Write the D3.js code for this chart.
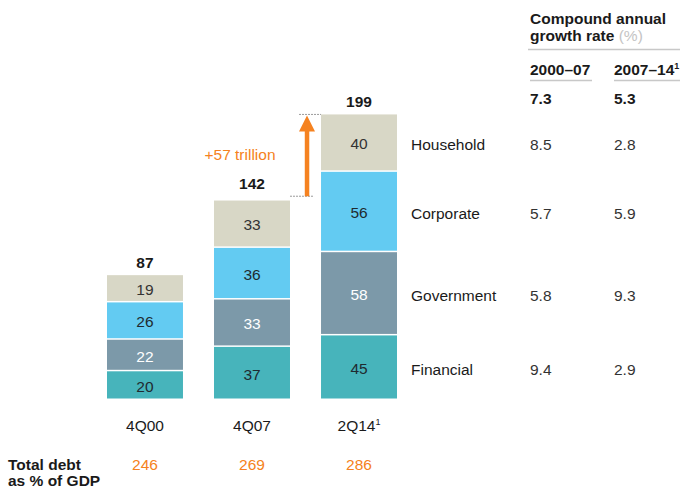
<!DOCTYPE html>
<html>
<head>
<meta charset="utf-8">
<script src="https://cdn.jsdelivr.net/npm/d3@7"></script>
<style>
  html, body { margin: 0; padding: 0; background: #fff; }
  svg { font-family: "Liberation Sans", Arial, sans-serif; }
</style>
</head>
<body>
<svg id="chart" width="680" height="490"></svg>
<script>
// Debt stock by sector, $ trillion
const periods = ["4Q00", "4Q07", "2Q14"];
const periodNotes = ["", "", "1"];
const sectors = ["Financial", "Government", "Corporate", "Household"];
const financial = [20, 37, 45];
const government = [22, 33, 58];
const corporate = [26, 36, 56];
const household = [19, 33, 40];
const totals = [87, 142, 199];
const debtToGdp = [246, 269, 286];
// Compound annual growth rate (%), per sector
const cagrHeaders = ["2000–07", "2007–14"];
const cagrTotal = [7.3, 5.3];
const cagrFinancial = [9.4, 2.9];
const cagrGovernment = [5.8, 9.3];
const cagrCorporate = [5.7, 5.9];
const cagrHousehold = [8.5, 2.8];
const increaseLabel = "+57 trillion";

const colors = {
  Financial: "#47b4bb",
  Government: "#7c99a9",
  Corporate: "#63cbf2",
  Household: "#d8d7c6"
};
const textColors = {
  Financial: "#1f2a30",
  Government: "#ffffff",
  Corporate: "#1f2a30",
  Household: "#333333"
};

const seriesValues = {
  Financial: financial, Government: government,
  Corporate: corporate, Household: household
};
const cagrValues = {
  Financial: cagrFinancial, Government: cagrGovernment,
  Corporate: cagrCorporate, Household: cagrHousehold
};

const rows = periods.map((p, i) => {
  const r = { period: p };
  sectors.forEach(s => r[s] = seriesValues[s][i]);
  return r;
});

const svg = d3.select("#chart");
const orange = "#f58220";
const dark = "#1a1a1a";
const fs = 15.5;

const x = d3.scaleBand().domain(periods).range([107, 397]).paddingInner(0.29).paddingOuter(0);
const y = d3.scaleLinear().domain([0, 200]).range([400, 113]);

const stack = d3.stack().keys(sectors);
const layers = stack(rows);

const g = svg.append("g");
layers.forEach(layer => {
  const key = layer.key;
  const lg = g.append("g");
  lg.selectAll("rect").data(layer).join("rect")
    .attr("x", d => x(d.data.period))
    .attr("width", x.bandwidth())
    .attr("y", d => y(d[1]))
    .attr("height", d => Math.max(0, y(d[0]) - y(d[1]) - 1.5))
    .attr("fill", colors[key]);
  lg.selectAll("text").data(layer).join("text")
    .attr("x", d => x(d.data.period) + x.bandwidth() / 2)
    .attr("y", d => (y(d[0]) + y(d[1])) / 2)
    .attr("dy", "0.4em")
    .attr("text-anchor", "middle")
    .attr("font-size", fs)
    .attr("fill", textColors[key])
    .text(d => d.data[key]);
});

// Totals above each bar
g.selectAll(".total").data(periods).join("text")
  .attr("x", d => x(d) + x.bandwidth() / 2)
  .attr("y", (d, i) => y(totals[i]) - 7)
  .attr("text-anchor", "middle")
  .attr("font-size", fs).attr("font-weight", "bold").attr("fill", dark)
  .text((d, i) => totals[i]);

// Period labels
const pl = g.selectAll(".period").data(periods).join("text")
  .attr("x", d => x(d) + x.bandwidth() / 2)
  .attr("y", 431)
  .attr("text-anchor", "middle")
  .attr("font-size", fs).attr("fill", dark);
pl.append("tspan").text(d => d);
pl.append("tspan").attr("font-size", 9).attr("dy", -6).text((d, i) => periodNotes[i]);

// Debt as % of GDP
svg.append("text").attr("x", 8).attr("y", 470).attr("font-size", fs).attr("font-weight", "bold").attr("fill", dark).text("Total debt");
svg.append("text").attr("x", 8).attr("y", 486).attr("font-size", fs).attr("font-weight", "bold").attr("fill", dark).text("as % of GDP");
g.selectAll(".gdp").data(periods).join("text")
  .attr("x", d => x(d) + x.bandwidth() / 2)
  .attr("y", 470)
  .attr("text-anchor", "middle")
  .attr("font-size", fs).attr("fill", orange)
  .text((d, i) => debtToGdp[i]);

// Increase arrow between 4Q07 and 2Q14 totals
const ax = x(periods[2]) - 14;
const yTop = y(totals[2]);
const yBot = y(totals[1]);
svg.append("line").attr("x1", x(periods[1]) + x.bandwidth()).attr("x2", ax + 7)
  .attr("y1", yBot).attr("y2", yBot)
  .attr("stroke", "#9a9a9a").attr("stroke-width", 1).attr("stroke-dasharray", "2,1");
svg.append("line").attr("x1", ax - 8).attr("x2", x(periods[2]))
  .attr("y1", yTop).attr("y2", yTop)
  .attr("stroke", "#9a9a9a").attr("stroke-width", 1).attr("stroke-dasharray", "2,1");
svg.append("line").attr("x1", ax).attr("x2", ax)
  .attr("y1", yBot).attr("y2", yTop + 14)
  .attr("stroke", orange).attr("stroke-width", 4.5);
svg.append("path")
  .attr("d", `M${ax - 8},${yTop + 17} L${ax},${yTop + 1} L${ax + 8},${yTop + 17} Z`)
  .attr("fill", orange);
svg.append("text").attr("x", 240).attr("y", 160).attr("text-anchor", "middle")
  .attr("font-size", fs).attr("fill", orange).text(increaseLabel);

// Growth-rate table
const col1 = 530, col2 = 614, labelX = 411;
svg.append("text").attr("x", col1).attr("y", 24).attr("font-size", fs).attr("font-weight", "bold").attr("fill", dark).text("Compound annual");
const gr = svg.append("text").attr("x", col1).attr("y", 41).attr("font-size", fs).attr("font-weight", "bold").attr("fill", dark);
gr.append("tspan").text("growth rate ");
gr.append("tspan").attr("fill", "#c4c4c4").attr("font-weight", "normal").text("(%)");
svg.append("line").attr("x1", col1 - 2).attr("x2", 680).attr("y1", 49.5).attr("y2", 49.5).attr("stroke", "#c8c8c8").attr("stroke-width", 1.5);

[col1, col2].forEach((cx, i) => {
  const t = svg.append("text").attr("x", cx).attr("y", 75).attr("font-size", fs).attr("font-weight", "bold").attr("fill", dark);
  t.append("tspan").text(cagrHeaders[i]);
  if (i === 1) t.append("tspan").attr("font-size", 9).attr("dy", -6).text("1");
  svg.append("line").attr("x1", cx).attr("x2", i === 0 ? 592 : 680).attr("y1", 80.5).attr("y2", 80.5).attr("stroke", "#c8c8c8").attr("stroke-width", 1.5);
  svg.append("text").attr("x", cx).attr("y", 104).attr("font-size", fs).attr("font-weight", "bold").attr("fill", dark).text(cagrTotal[i].toFixed(1));
});

const last = layers.map(l => ({ key: l.key, mid: (y(l[2][0]) + y(l[2][1])) / 2 }));
last.forEach(r => {
  svg.append("text").attr("x", labelX).attr("y", r.mid).attr("dy", "0.45em").attr("font-size", fs).attr("fill", dark).text(r.key);
  [col1, col2].forEach((cx, i) => {
    svg.append("text").attr("x", cx).attr("y", r.mid).attr("dy", "0.45em").attr("font-size", fs).attr("fill", "#333").text(cagrValues[r.key][i].toFixed(1));
  });
});
</script>
</body>
</html>
